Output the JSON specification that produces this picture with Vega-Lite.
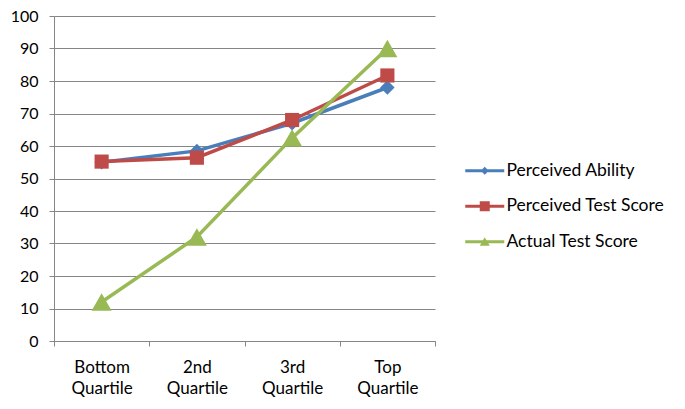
{
  "$schema": "https://vega.github.io/schema/vega-lite/v6.json",
  "description": "Perceived vs actual scores by quartile, Excel style line chart",
  "autosize": {"type": "none"},
  "padding": {"left": 54, "top": 16, "right": 250, "bottom": 68},
  "width": 381,
  "height": 325,
  "data": {
    "values": [
      {"quartile": "Bottom Quartile", "series": "Perceived Ability", "value": 55},
      {"quartile": "2nd Quartile", "series": "Perceived Ability", "value": 58.5},
      {"quartile": "3rd Quartile", "series": "Perceived Ability", "value": 67},
      {"quartile": "Top Quartile", "series": "Perceived Ability", "value": 78},
      {"quartile": "Bottom Quartile", "series": "Perceived Test Score", "value": 55.2},
      {"quartile": "2nd Quartile", "series": "Perceived Test Score", "value": 56.4},
      {"quartile": "3rd Quartile", "series": "Perceived Test Score", "value": 68},
      {"quartile": "Top Quartile", "series": "Perceived Test Score", "value": 81.7},
      {"quartile": "Bottom Quartile", "series": "Actual Test Score", "value": 12},
      {"quartile": "2nd Quartile", "series": "Actual Test Score", "value": 32},
      {"quartile": "3rd Quartile", "series": "Actual Test Score", "value": 62.5},
      {"quartile": "Top Quartile", "series": "Actual Test Score", "value": 90}
    ]
  },
  "encoding": {
    "x": {
      "field": "quartile",
      "type": "nominal",
      "sort": null,
      "title": null,
      "scale": {"type": "band", "paddingInner": 0, "paddingOuter": 0},
      "axis": {
        "labelAngle": 0,
        "labelExpr": "split(datum.label, ' ')",
        "labelFontSize": 17,
        "labelLineHeight": 21,
        "labelPadding": 13,
        "tickBand": "extent",
        "tickSize": 5,
        "grid": false
      }
    },
    "y": {
      "field": "value",
      "type": "quantitative",
      "title": null,
      "scale": {"domain": [0, 100], "nice": false},
      "axis": {"values": [0, 10, 20, 30, 40, 50, 60, 70, 80, 90, 100], "tickSize": 5, "labelPadding": 11}
    },
    "color": {
      "field": "series",
      "type": "nominal",
      "sort": ["Perceived Ability", "Perceived Test Score", "Actual Test Score"],
      "scale": {
        "domain": ["Perceived Ability", "Perceived Test Score", "Actual Test Score"],
        "range": ["#4A7EBB", "#BE4B48", "#98B954"]
      },
      "legend": {
        "title": null,
        "orient": "none",
        "legendX": 422,
        "legendY": 146,
        "padding": 0,
        "symbolSize": 100,
        "rowPadding": 16.5,
        "labelOffset": 13,
        "labelFontSize": 17.5,
        "symbolStrokeWidth": 0,
        "symbolOpacity": 1
      }
    }
  },
  "layer": [
    {
      "mark": {"type": "line", "strokeWidth": 3.5}
    },
    {
      "transform": [{"filter": {"field": "series", "equal": "Perceived Ability"}}],
      "mark": {"type": "point", "filled": true, "opacity": 1, "shape": "diamond", "size": 210}
    },
    {
      "transform": [{"filter": {"field": "series", "equal": "Perceived Test Score"}}],
      "mark": {"type": "point", "filled": true, "opacity": 1, "shape": "square", "size": 200}
    },
    {
      "transform": [{"filter": {"field": "series", "equal": "Actual Test Score"}}],
      "mark": {"type": "point", "filled": true, "opacity": 1, "shape": "triangle-up", "size": 400}
    },
    {
      "description": "legend keys only",
      "transform": [{"filter": {"field": "series", "equal": "none"}}],
      "mark": {"type": "point", "filled": true, "opacity": 1},
      "encoding": {
        "shape": {
          "field": "series",
          "type": "nominal",
          "sort": ["Perceived Ability", "Perceived Test Score", "Actual Test Score"],
          "scale": {
            "domain": ["Perceived Ability", "Perceived Test Score", "Actual Test Score"],
            "range": [
              "M-3.9,-0.3H3.9V0.3H-3.9Z M0,-0.8L0.8,0L0,0.8L-0.8,0Z",
              "M-3.9,-0.3H3.9V0.3H-3.9Z M-1,-1H1V1H-1Z",
              "M-3.9,-0.3H3.9V0.3H-3.9Z M0,-0.9L1,0.8H-1Z"
            ]
          },
          "legend": {
            "title": null,
            "orient": "none",
            "legendX": 422,
            "legendY": 146,
            "padding": 0,
            "symbolSize": 100,
            "rowPadding": 16.5,
            "labelOffset": 13,
            "labelFontSize": 17.5,
            "symbolStrokeWidth": 0,
            "symbolOpacity": 1
          }
        }
      }
    }
  ],
  "config": {
    "font": "Lato",
    "view": {"stroke": null},
    "axis": {
      "labelFont": "Lato",
      "labelFontSize": 16,
      "labelColor": "#000000",
      "domainColor": "#868686",
      "tickColor": "#868686",
      "gridColor": "#868686",
      "domainWidth": 1,
      "tickWidth": 1,
      "gridWidth": 1
    },
    "legend": {"labelFont": "Lato", "labelColor": "#000000", "labelLimit": 300}
  }
}
